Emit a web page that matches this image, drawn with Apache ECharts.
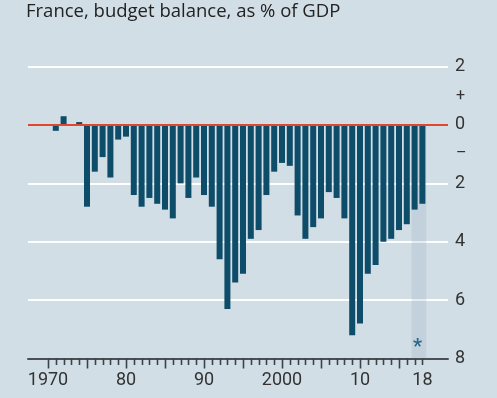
<!DOCTYPE html>
<html>
<head>
<meta charset="utf-8">
<script src="https://cdn.jsdelivr.net/npm/echarts@6/dist/echarts.min.js"></script>
<style>
  html, body { margin: 0; padding: 0; background: #d2dee6; }
  #chart { width: 497px; height: 398px; }
</style>
</head>
<body>
<div id="chart"></div>
<script>
// years shown on the axis
var years = [];
for (var y = 1970; y <= 2018; y++) years.push(String(y));

// budget balance, % of GDP
var balance = [
  0, -0.2, 0.3, 0, 0.1, -2.8, -1.6, -1.1, -1.8, -0.5,
  -0.4, -2.4, -2.8, -2.5, -2.7, -2.9, -3.2, -2.0, -2.5, -1.8,
  -2.4, -2.8, -4.6, -6.3, -5.4, -5.1, -3.9, -3.6, -2.4, -1.6,
  -1.3, -1.4, -3.1, -3.9, -3.5, -3.2, -2.3, -2.5, -3.2, -7.2,
  -6.8, -5.1, -4.8, -4.0, -3.9, -3.6, -3.4, -2.9, -2.7
];

// forecast years get the shaded band
var forecastYears = ['2017', '2018'];
var labelYears = ['1970', '1980', '1990', '2000', '2010', '2018'];
var majorTickYears = ['1970', '1975', '1980', '1985', '1990', '1995', '2000', '2005', '2010', '2015'];
var yTicks = [-8, 2]; // min / max of the value axis

var band = years.map(function (yr) {
  return forecastYears.indexOf(yr) >= 0 ? yTicks[0] : '-';
});

var font = 'Roboto, "Open Sans", sans-serif';
var tickColor = '#3d4247';
var chart = echarts.init(document.getElementById('chart'));

chart.setOption({
  backgroundColor: '#d2dee6',
  animation: false,
  title: {
    text: 'France, budget balance, as % of GDP',
    left: 26, top: 2, padding: 0,
    textStyle: { fontFamily: '"Open Sans", Roboto, sans-serif', fontSize: 18.5, fontWeight: 'normal', color: '#222' }
  },
  grid: [
    { left: 28, right: 49, top: 66.6, bottom: 39.5 },
    { left: 44.1, right: 70.7, top: 66.6, bottom: 39.5 }
  ],
  xAxis: [
    {
      gridIndex: 0, type: 'value', min: 0, max: 1,
      axisLine: { show: true, onZero: false, lineStyle: { color: '#4a4f55', width: 2 } },
      axisTick: { show: false }, axisLabel: { show: false }, splitLine: { show: false }
    },
    {
      gridIndex: 1, type: 'category', data: years, position: 'bottom',
      axisLine: { show: false, onZero: false },
      axisTick: { show: false },
      axisLabel: {
        interval: function (i, v) { return labelYears.indexOf(v) >= 0; },
        formatter: function (v) {
          return (v === '1970' || v === '2000') ? v : v.slice(2);
        },
        margin: 13, fontFamily: font, fontSize: 18, color: '#333'
      }
    }
  ],
  yAxis: [
    {
      gridIndex: 0, type: 'value', min: yTicks[0], max: yTicks[1], interval: 2, position: 'right',
      axisLine: { show: false }, axisTick: { show: false },
      splitLine: { show: true, lineStyle: { color: '#ffffff', width: 2 } },
      axisLabel: {
        margin: 7, fontFamily: font, fontSize: 18, color: '#333',
        formatter: function (v) { return String(Math.abs(v)); }
      }
    },
    {
      gridIndex: 0, type: 'value', min: yTicks[0], max: yTicks[1], interval: 1, position: 'right',
      axisLine: { show: false }, axisTick: { show: false }, splitLine: { show: false },
      axisLabel: {
        margin: 8, fontFamily: font, fontSize: 16, color: '#333',
        formatter: function (v) { return v === 1 ? '+' : (v === -1 ? '–' : ''); }
      }
    },
    { gridIndex: 1, type: 'value', min: yTicks[0], max: yTicks[1], show: false }
  ],
  series: [
    {
      type: 'line', xAxisIndex: 0, yAxisIndex: 0, data: [], silent: true,
      markLine: {
        silent: true, symbol: 'none', label: { show: false }, z: 10,
        lineStyle: { color: '#e0472f', width: 2, type: 'solid' },
        data: [{ yAxis: 0 }]
      }
    },
    {
      name: 'forecast', type: 'bar', xAxisIndex: 1, yAxisIndex: 2,
      data: band, barWidth: '100%', silent: true,
      itemStyle: { color: 'rgba(120,150,170,0.18)' }
    },
    {
      name: 'balance', type: 'bar', xAxisIndex: 1, yAxisIndex: 2,
      data: balance, barWidth: 6, barGap: '-100%',
      itemStyle: { color: '#0e4d69' }
    },
    {
      // year ticks under the axis, longer every five years
      type: 'custom', xAxisIndex: 1, yAxisIndex: 2, silent: true, clip: false, z: 20,
      data: years.map(function (yr) { return [yr, yTicks[0]]; }),
      renderItem: function (params, api) {
        var p = api.coord([api.value(0), api.value(1)]);
        var major = majorTickYears.indexOf(years[params.dataIndex]) >= 0;
        var x = Math.round(p[0]) + 0.5;
        return {
          type: 'line',
          shape: { x1: x, y1: p[1], x2: x, y2: p[1] + (major ? 10 : 6.5) },
          style: { stroke: tickColor, lineWidth: 1.6 }
        };
      }
    }
  ],
  graphic: [
    {
      type: 'text', left: 413, top: 338,
      style: { text: '*', fill: '#1a5f80', font: 'bold 20px ' + font }
    }
  ]
});
</script>
</body>
</html>
